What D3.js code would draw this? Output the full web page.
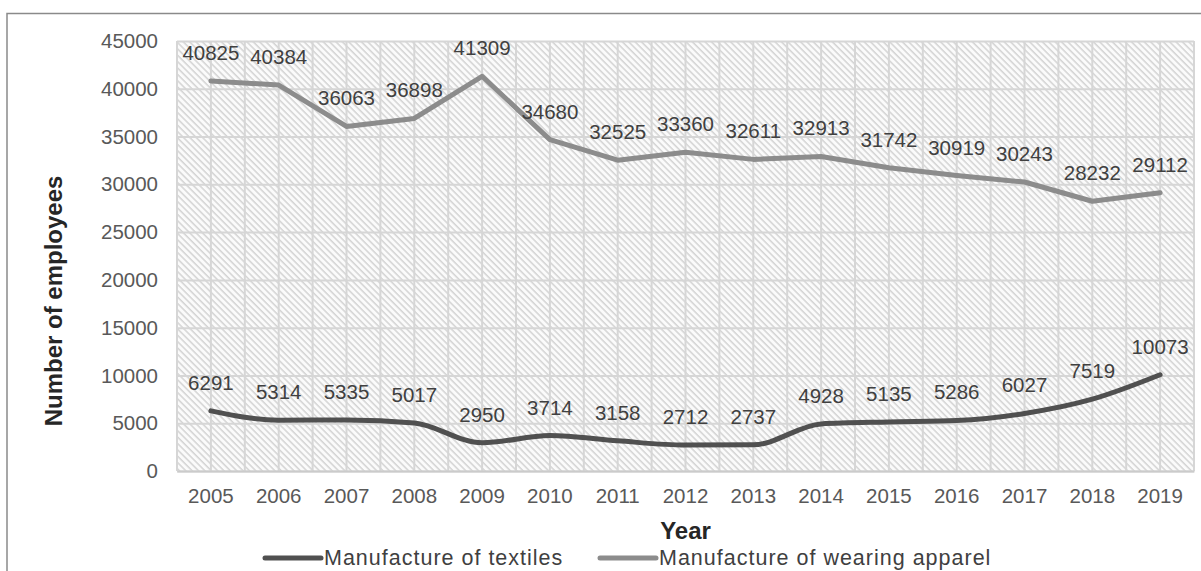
<!DOCTYPE html>
<html>
<head>
<meta charset="utf-8">
<script src="https://cdn.jsdelivr.net/npm/d3@7"></script>
<style>
  html, body { margin: 0; padding: 0; background: #fff; }
  svg { display: block; font-family: "Liberation Sans", Arial, sans-serif; }
</style>
</head>
<body>
<svg id="chart" width="1201" height="571"></svg>
<script>
// Employment in the textile and apparel industries, 2005–2019
const years = [2005, 2006, 2007, 2008, 2009, 2010, 2011, 2012, 2013, 2014, 2015, 2016, 2017, 2018, 2019];
const textiles = [6291, 5314, 5335, 5017, 2950, 3714, 3158, 2712, 2737, 4928, 5135, 5286, 6027, 7519, 10073];
const apparel = [40825, 40384, 36063, 36898, 41309, 34680, 32525, 33360, 32611, 32913, 31742, 30919, 30243, 28232, 29112];
const yTicks = [0, 5000, 10000, 15000, 20000, 25000, 30000, 35000, 40000, 45000];
const seriesNames = ["Manufacture of textiles", "Manufacture of wearing apparel"];
const seriesColors = ["#505050", "#8c8c8c"];

const svg = d3.select("#chart");
const plot = { left: 177, right: 1194, top: 41, bottom: 471 };

const x = d3.scaleBand().domain(years).range([plot.left, plot.right]).padding(0);
const y = d3.scaleLinear().domain([0, 45000]).range([plot.bottom, plot.top]);
const cx = d => x(d) + x.bandwidth() / 2;

// outer chart frame
svg.append("path")
  .attr("d", "M7,571 V13.5 H1201")
  .attr("fill", "none").attr("stroke", "#8a8a8a").attr("stroke-width", 1.5);

// diagonal hatch fill of the plot area
const defs = svg.append("defs");
const pat = defs.append("pattern")
  .attr("id", "hatch").attr("patternUnits", "userSpaceOnUse")
  .attr("width", 4.5).attr("height", 4.5)
  .attr("patternTransform", "rotate(-45)");
pat.append("rect").attr("width", 4.5).attr("height", 4.5).attr("fill", "#fbfbfb");
pat.append("line").attr("x1", 1).attr("y1", 0).attr("x2", 1).attr("y2", 4.5)
  .attr("stroke", "#c9c9c9").attr("stroke-width", 1.2);

svg.append("rect")
  .attr("x", plot.left).attr("y", plot.top)
  .attr("width", plot.right - plot.left).attr("height", plot.bottom - plot.top)
  .attr("fill", "url(#hatch)");

// vertical gridlines at band edges and band centres
const vLines = [];
years.forEach(yr => { vLines.push(x(yr)); vLines.push(cx(yr)); });
vLines.push(plot.right);
svg.append("g").selectAll("line").data(vLines).join("line")
  .attr("x1", d => d).attr("x2", d => d)
  .attr("y1", plot.top).attr("y2", plot.bottom)
  .attr("stroke", "#d6d6d6").attr("stroke-width", 2);

// y axis with horizontal gridlines
const yAxis = d3.axisLeft(y).tickValues(yTicks).tickFormat(d3.format("d"))
  .tickSize(-(plot.right - plot.left)).tickPadding(19);
const gy = svg.append("g").attr("transform", `translate(${plot.left},0)`).call(yAxis);
gy.select(".domain").remove();
gy.selectAll(".tick line").attr("stroke", "#d6d6d6").attr("stroke-width", 2);
gy.selectAll(".tick text").attr("fill", "#595959").attr("font-size", 20.5)
  .attr("font-family", "Liberation Sans, Arial, sans-serif");

// x axis
const xAxis = d3.axisBottom(x).tickSize(0).tickPadding(17);
const gx = svg.append("g").attr("transform", `translate(0,${plot.bottom})`).call(xAxis);
gx.select(".domain").attr("stroke", "#cbcbcb").attr("stroke-width", 2);
gx.selectAll(".tick text").attr("fill", "#595959").attr("font-size", 20.5)
  .attr("font-family", "Liberation Sans, Arial, sans-serif");

// series lines (textiles smoothed, apparel straight segments)
const curves = [d3.curveMonotoneX, d3.curveLinear];
[textiles, apparel].forEach((vals, k) => {
  const line = d3.line().x((d, i) => cx(years[i])).y(d => y(d)).curve(curves[k]);
  svg.append("path").datum(vals)
    .attr("d", line)
    .attr("fill", "none").attr("stroke", seriesColors[k])
    .attr("stroke-width", 5).attr("stroke-linejoin", "round").attr("stroke-linecap", "round");
});

// data labels above each point
[textiles, apparel].forEach(vals => {
  svg.append("g").selectAll("text").data(vals).join("text")
    .attr("x", (d, i) => cx(years[i]))
    .attr("y", d => y(d) - 21)
    .attr("text-anchor", "middle")
    .attr("font-size", 20.5).attr("fill", "#404040")
    .text(d => d);
});

// axis titles
svg.append("text")
  .attr("transform", `translate(62,301) rotate(-90)`)
  .attr("text-anchor", "middle").attr("font-size", 24).attr("font-weight", "bold")
  .attr("fill", "#262626").text("Number of employees");

svg.append("text")
  .attr("x", (plot.left + plot.right) / 2).attr("y", 539)
  .attr("text-anchor", "middle").attr("font-size", 24).attr("font-weight", "bold")
  .attr("fill", "#262626").text("Year");

// legend
const legendX = [265, 600];
const leg = svg.append("g").selectAll("g").data(seriesNames).join("g")
  .attr("transform", (d, i) => `translate(${legendX[i]},558)`);
leg.append("line").attr("x1", 0).attr("x2", 56).attr("y1", 0).attr("y2", 0)
  .attr("stroke", (d, i) => seriesColors[i]).attr("stroke-width", 5).attr("stroke-linecap", "round");
leg.append("text").attr("x", 59).attr("y", 7)
  .attr("font-size", 21.5).attr("letter-spacing", 1).attr("fill", "#404040")
  .text(d => d);
</script>
</body>
</html>
